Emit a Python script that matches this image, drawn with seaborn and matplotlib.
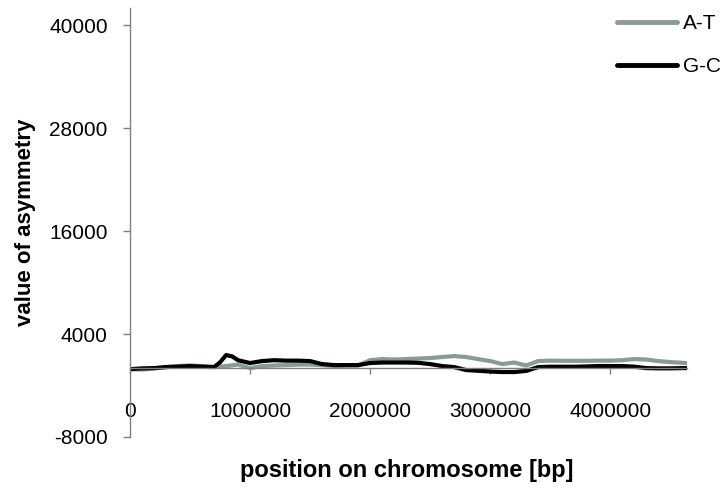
#!/usr/bin/env python3
import numpy as np
import pandas as pd
import matplotlib
matplotlib.use("Agg")
import matplotlib.pyplot as plt
import seaborn as sns

# positions along the chromosome (bp), read roughly every 100 kb
position = [0, 100000, 200000, 300000, 400000, 500000, 600000, 700000, 750000,
            800000, 850000, 900000, 1000000, 1100000, 1200000, 1300000, 1400000,
            1500000, 1600000, 1700000, 1800000, 1900000, 2000000, 2100000,
            2200000, 2300000, 2400000, 2500000, 2600000, 2700000, 2800000,
            2900000, 3000000, 3100000, 3200000, 3300000, 3400000, 3500000,
            3600000, 3700000, 3800000, 3900000, 4000000, 4100000, 4200000,
            4300000, 4400000, 4500000, 4600000, 4640000]

at_skew = [-80, -140, -20, 150, 270, 330, 270, 150, 200, 270, 350, 440, 30, 270,
           330, 380, 440, 440, 380, 270, 330, 330, 950, 1080, 1030, 1080, 1140,
           1200, 1320, 1430, 1320, 1080, 850, 500, 680, 330, 850, 900, 880, 880,
           880, 900, 900, 950, 1080, 1030, 850, 730, 650, 600]

gc_skew = [-100, 0, 30, 150, 200, 270, 200, 150, 700, 1550, 1400, 950, 620, 850,
           950, 900, 900, 850, 500, 380, 380, 380, 620, 680, 680, 680, 650, 500,
           270, 150, -200, -280, -370, -430, -430, -300, 150, 190, 190, 190, 220,
           270, 270, 270, 200, 30, 0, 0, 30, 30]

df = pd.concat([
    pd.DataFrame({"position": position, "value": at_skew, "pair": "A-T"}),
    pd.DataFrame({"position": position, "value": gc_skew, "pair": "G-C"}),
])

sns.set_style("white")
plt.rcParams["font.family"] = ["Liberation Sans", "DejaVu Sans"]
plt.rcParams["axes.unicode_minus"] = False
plt.rcParams["text.color"] = "black"

fig = plt.figure(figsize=(7.26, 4.93), dpi=100)
ax = fig.add_axes([130 / 726, 1 - 437 / 493, 557 / 726, 429 / 493])

sns.lineplot(data=df, x="position", y="value", hue="pair",
             palette={"A-T": "#8a9a98", "G-C": "#000000"},
             linewidth=3, ax=ax, legend=True)

ax.set_xlim(0, 4.64e6)
ax.set_ylim(-8000, 42000)
ax.set_yticks([-8000, 4000, 16000, 28000, 40000])
ax.set_xticks([0, 1000000, 2000000, 3000000, 4000000])
ax.set_xticklabels(["0", "1000000", "2000000", "3000000", "4000000"])

for s in ["top", "right"]:
    ax.spines[s].set_visible(False)
ax.spines["bottom"].set_position(("data", 0))
for s in ["left", "bottom"]:
    ax.spines[s].set_color("#808080")
    ax.spines[s].set_linewidth(1)

ax.tick_params(axis="y", direction="out", length=5, width=1, color="#808080",
               pad=11, labelsize=15, labelcolor="black", left=True)
ax.tick_params(axis="x", direction="out", length=4, width=1, color="#808080",
               pad=20, labelsize=15, labelcolor="black", bottom=True)
ax.set_xlabel("")
ax.set_ylabel("")

fig.text(407 / 726, 1 - 470 / 493, "position on chromosome [bp]",
         ha="center", va="center", fontsize=17, fontweight="bold")
fig.text(26 / 726, 1 - 222 / 493, "value of asymmetry", rotation=90,
         ha="center", va="center", fontsize=16, fontweight="bold")

leg = ax.legend(loc="upper left", bbox_to_anchor=(617 / 726, 1 - 14 / 493),
                bbox_transform=fig.transFigure, frameon=False,
                fontsize=15, handlelength=2.9, handletextpad=0.25,
                labelspacing=1.15, borderaxespad=0, borderpad=0)
for line in leg.get_lines():
    line.set_linewidth(3.5)

fig.savefig("out.png", dpi=100)
